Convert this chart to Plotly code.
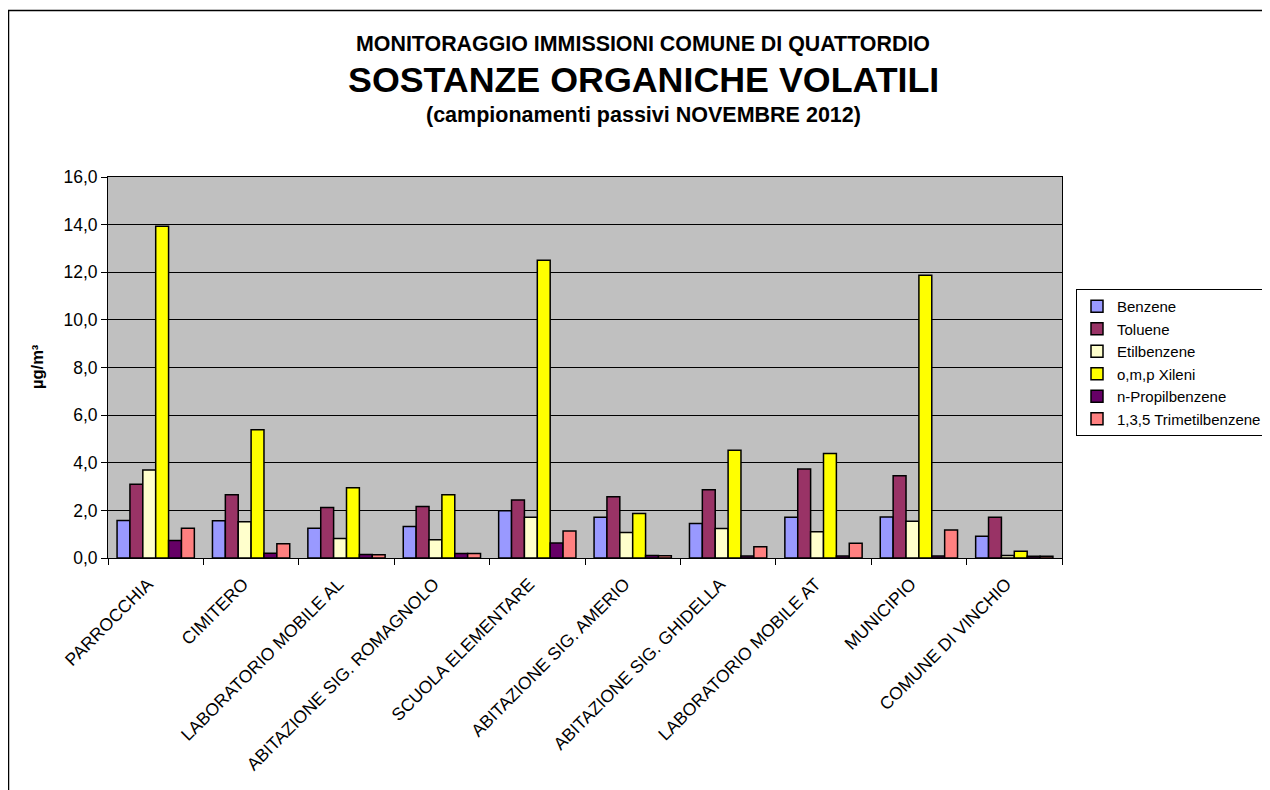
import plotly.graph_objects as go

categories = ["PARROCCHIA", "CIMITERO", "LABORATORIO MOBILE AL", "ABITAZIONE SIG. ROMAGNOLO",
              "SCUOLA ELEMENTARE", "ABITAZIONE SIG. AMERIO", "ABITAZIONE SIG. GHIDELLA",
              "LABORATORIO MOBILE AT", "MUNICIPIO", "COMUNE DI VINCHIO"]

benzene = [1.57, 1.56, 1.25, 1.32, 1.98, 1.71, 1.45, 1.71, 1.72, 0.91]
toluene = [3.10, 2.66, 2.12, 2.16, 2.44, 2.57, 2.87, 3.74, 3.45, 1.71]
etilbenzene = [3.70, 1.52, 0.82, 0.77, 1.71, 1.07, 1.24, 1.10, 1.54, 0.10]
xileni = [13.93, 5.39, 2.95, 2.66, 12.50, 1.87, 4.53, 4.39, 11.87, 0.28]
propilbenzene = [0.73, 0.20, 0.15, 0.19, 0.63, 0.10, 0.08, 0.08, 0.08, 0.07]
trimetilbenzene = [1.25, 0.60, 0.14, 0.19, 1.13, 0.09, 0.47, 0.62, 1.18, 0.07]

series = [
    ("Benzene", benzene, "#9999FF"),
    ("Toluene", toluene, "#993366"),
    ("Etilbenzene", etilbenzene, "#FFFFCC"),
    ("o,m,p Xileni", xileni, "#FFFF00"),
    ("n-Propilbenzene", propilbenzene, "#660066"),
    ("1,3,5 Trimetilbenzene", trimetilbenzene, "#FF8080"),
]

FONT = "Liberation Sans, Arial, sans-serif"

fig = go.Figure()
for name, vals, col in series:
    fig.add_trace(go.Bar(
        name=name, x=categories, y=vals,
        marker=dict(color=col, line=dict(color="black", width=1.5)),
    ))

OFF = 8  # page body margin
W, H = 1270 - OFF, 790 - OFF
L, R, T, B = 108, 1062, 177, 558  # page coordinates of plot area

def px_x(x):
    return (x - L) / (R - L)

def px_y(y):
    return (B - y) / (B - T)

fig.update_layout(
    width=W, height=H,
    margin=dict(l=L - OFF, r=W - (R - OFF), t=T - OFF, b=H - (B - OFF), autoexpand=False),
    paper_bgcolor="white",
    plot_bgcolor="#C0C0C0",
    barmode="group",
    bargap=0.19,
    bargroupgap=0,
    separators=",.",
    font=dict(family=FONT, color="black", size=13),
    showlegend=True,
    legend=dict(
        x=px_x(1076), y=px_y(289), xanchor="left", yanchor="top",
        bgcolor="white", bordercolor="black", borderwidth=1,
        font=dict(family=FONT, size=15, color="black"),
        itemwidth=30,
    ),
    xaxis=dict(
        showgrid=False, showline=True, linecolor="black", linewidth=1,
        mirror=True,
        ticks="outside", ticklen=6, tickcolor="black", tickson="boundaries",
        tickangle=-45, tickfont=dict(family=FONT, size=17.5, color="black"),
        ticklabelstandoff=8, ticklabelshift=-8,
    ),
    yaxis=dict(
        range=[0, 16], dtick=2, tickformat=".1f",
        showgrid=True, gridcolor="black", gridwidth=1,
        showline=True, linecolor="black", linewidth=1, mirror=True,
        ticks="outside", ticklen=6, tickcolor="black",
        tickfont=dict(family=FONT, size=17.5, color="black"),
        zeroline=False,
    ),
    annotations=[
        dict(text="<b>MONITORAGGIO IMMISSIONI COMUNE DI QUATTORDIO</b>", xref="paper", yref="paper",
             x=px_x(643), y=px_y(44), xanchor="center", yanchor="middle", showarrow=False,
             font=dict(family=FONT, size=21.4)),
        dict(text="<b>SOSTANZE ORGANICHE VOLATILI</b>", xref="paper", yref="paper",
             x=px_x(643), y=px_y(80), xanchor="center", yanchor="middle", showarrow=False,
             font=dict(family=FONT, size=35.8)),
        dict(text="<b>(campionamenti passivi NOVEMBRE 2012)</b>", xref="paper", yref="paper",
             x=px_x(643), y=px_y(115), xanchor="center", yanchor="middle", showarrow=False,
             font=dict(family=FONT, size=21.5)),
        dict(text="<b>µg/m³</b>", xref="paper", yref="paper",
             x=px_x(37), y=px_y(367), xanchor="center", yanchor="middle", showarrow=False,
             textangle=-90, font=dict(family=FONT, size=16.5)),
    ],
    shapes=[
        dict(type="rect", xref="paper", yref="paper",
             x0=px_x(8.5), x1=px_x(1300), y0=px_y(820), y1=px_y(10.5),
             line=dict(color="black", width=1.5), fillcolor="rgba(0,0,0,0)", layer="below"),
    ],
)

fig.write_html("out.html")
